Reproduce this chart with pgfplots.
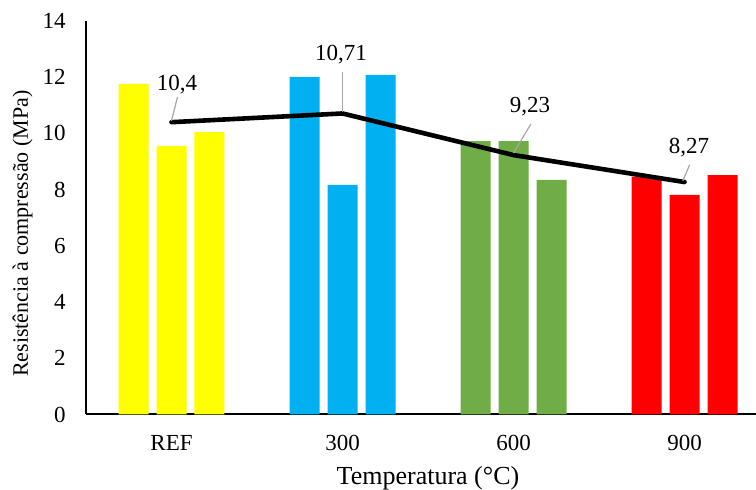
\documentclass[border=0pt]{standalone}
\usepackage{fontspec}
\setmainfont{Liberation Serif}
\usepackage{pgfplots}
\pgfplotsset{compat=1.18}
\definecolor{cyel}{RGB}{255,255,0}
\definecolor{cblu}{RGB}{0,176,240}
\definecolor{cgrn}{RGB}{112,173,71}
\definecolor{cred}{RGB}{255,0,0}
\definecolor{clead}{RGB}{166,166,166}
\begin{document}
\begin{tikzpicture}
\begin{axis}[
  scale only axis,
  width=335pt, height=196.75pt,
  xmin=-0.5, xmax=3.418,
  ymin=0, ymax=14,
  axis x line=bottom, axis y line=left,
  axis line style={-, line width=1pt, black},
  xtick={0,1,2,3},
  xticklabels={REF,300,600,900},
  ytick={0,2,...,14},
  major tick length=0pt,
  /pgf/number format/assume math mode=true,
  ticklabel style={font=\fontsize{11.5}{13}\selectfont},
  yticklabel style={xshift=-6.7pt},
  xticklabel style={yshift=-7pt},
  xlabel={Temperatura (°C)},
  ylabel={Resistência à compressão (MPa)},
  xlabel style={font=\fontsize{13}{15}\selectfont, at={(axis description cs:0.5104,0)}, anchor=base, yshift=-35.25pt},
  ylabel style={font=\fontsize{11}{13}\selectfont, at={(axis description cs:-0.0866,0.4595)}, anchor=base},
  clip=false,
]
\addplot[ybar, bar width=15pt, fill=cyel, draw=none] coordinates {(-0.2222,11.76) (0,9.56) (0.2222,10.05)};
\addplot[ybar, bar width=15pt, fill=cblu, draw=none] coordinates {(0.7778,12.01) (1,8.17) (1.2222,12.08)};
\addplot[ybar, bar width=15pt, fill=cgrn, draw=none] coordinates {(1.7778,9.73) (2,9.73) (2.2222,8.35)};
\addplot[ybar, bar width=15pt, fill=cred, draw=none] coordinates {(2.7778,8.46) (3,7.81) (3.2222,8.52)};
\addplot[black, line width=2.3pt, line join=round, line cap=round, mark=none] coordinates {(0,10.4) (1,10.71) (2,9.23) (3,8.27)};
\draw[clead, line width=0.6pt] (axis cs:0,10.45) -- (axis cs:0.035,11.3);
\draw[clead, line width=0.6pt] (axis cs:1,10.76) -- (axis cs:1,12.19);
\draw[clead, line width=0.6pt] (axis cs:2,9.30) -- (axis cs:2.102,10.34);
\draw[clead, line width=0.6pt] (axis cs:2.99,8.31) -- (axis cs:3.03,8.88);
\node[font=\fontsize{11.5}{13}\selectfont] at (axis cs:0.032,11.73) {10,4};
\node[font=\fontsize{11.5}{13}\selectfont] at (axis cs:0.991,12.79) {10,71};
\node[font=\fontsize{11.5}{13}\selectfont] at (axis cs:2.096,10.94) {9,23};
\node[font=\fontsize{11.5}{13}\selectfont] at (axis cs:3.026,9.48) {8,27};
\end{axis}
\pgfresetboundingbox
\useasboundingbox (-43pt,-37.75pt) rectangle (335pt,207.25pt);
\end{tikzpicture}
\end{document}
